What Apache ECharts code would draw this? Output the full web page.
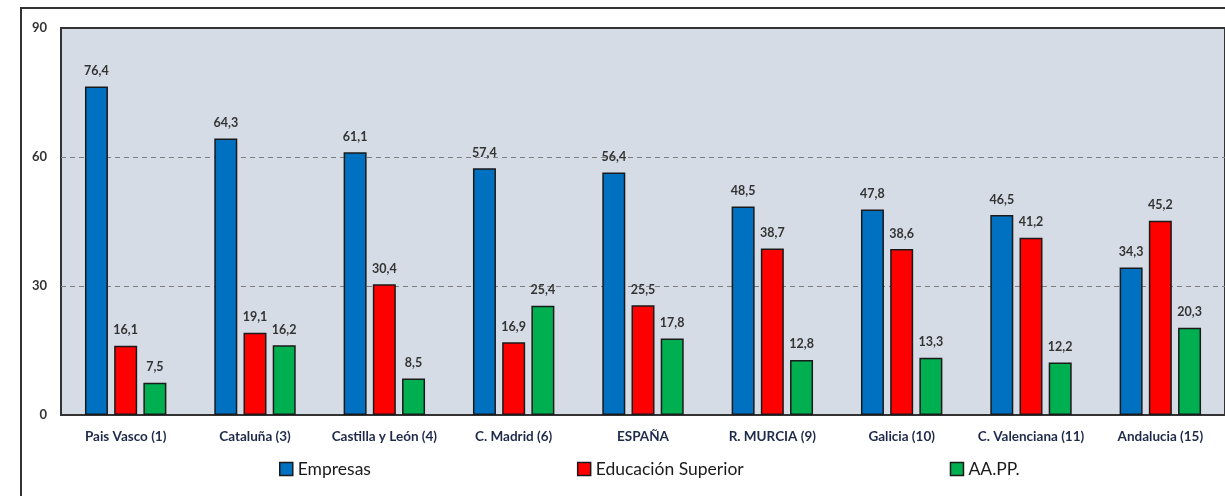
<!DOCTYPE html>
<html>
<head>
<meta charset="utf-8">
<style>
  html, body { margin: 0; padding: 0; background: #ffffff; }
  #chart { width: 1225px; height: 496px; }
</style>
<script src="https://cdn.jsdelivr.net/npm/echarts@6/dist/echarts.min.js"></script>
</head>
<body>
<div id="chart"></div>
<script>
// Regions (national ranking in brackets)
const categories = [
  'Pais Vasco (1)', 'Cataluña (3)', 'Castilla y León (4)', 'C. Madrid (6)', 'ESPAÑA',
  'R. MURCIA (9)', 'Galicia (10)', 'C. Valenciana (11)', 'Andalucia (15)'
];
const seriesNames = ['Empresas', 'Educación Superior', 'AA.PP.'];
const empresas = [76.4, 64.3, 61.1, 57.4, 56.4, 48.5, 47.8, 46.5, 34.3];
const educacionSuperior = [16.1, 19.1, 30.4, 16.9, 25.5, 38.7, 38.6, 41.2, 45.2];
const aapp = [7.5, 16.2, 8.5, 25.4, 17.8, 12.8, 13.3, 12.2, 20.3];
const yTicks = [0, 30, 60, 90];

const colors = ['#0070C0', '#FF0000', '#00B050'];
const FONT = 'Lato, "Noto Sans", sans-serif';

function barSeries(name, data, color) {
  return {
    name: name,
    type: 'bar',
    data: data,
    barWidth: 23,
    barGap: '27%',
    itemStyle: { color: color, borderColor: '#1a1a1a', borderWidth: 1.5 },
    label: {
      show: true,
      position: 'top',
      distance: 9,
      fontFamily: FONT,
      fontSize: 12.5,
      fontWeight: 'bold',
      color: '#333333',
      formatter: p => p.value.toFixed(1).replace('.', ',')
    }
  };
}

const chart = echarts.init(document.getElementById('chart'), null, { renderer: 'canvas' });
chart.setOption({
  animation: false,
  backgroundColor: '#ffffff',
  color: colors,
  grid: {
    left: 61, right: -3, top: 28, bottom: 81,
    show: true,
    backgroundColor: '#D6DCE5',
    borderColor: '#333333',
    borderWidth: 2
  },
  legend: {
    bottom: 13,
    left: 274,
    itemGap: 206,
    itemWidth: 13,
    itemHeight: 13,
    icon: 'rect',
    itemStyle: { borderColor: '#1a1a1a', borderWidth: 1.5 },
    textStyle: { fontFamily: FONT, fontSize: 17.5, color: '#1a1a1a' },
    data: seriesNames
  },
  xAxis: {
    type: 'category',
    data: categories,
    axisLine: { show: true, lineStyle: { color: '#333333', width: 2 } },
    axisTick: { show: false },
    axisLabel: {
      interval: 0,
      margin: 15,
      fontFamily: FONT,
      fontSize: 13.5,
      fontWeight: 'bold',
      color: '#1f2a4a'
    }
  },
  yAxis: {
    type: 'value',
    min: yTicks[0],
    max: yTicks[yTicks.length - 1],
    interval: 30,
    axisLine: { show: false },
    axisTick: { show: false },
    axisLabel: {
      margin: 14,
      fontFamily: FONT,
      fontSize: 13,
      fontWeight: 'bold',
      color: '#333333'
    },
    splitLine: {
      show: true,
      lineStyle: { color: '#7f7f7f', type: [5, 4], width: 1 },
      showMinLine: false,
      showMaxLine: false
    }
  },
  graphic: [
    // outer chart frame (top and left edges)
    { type: 'line', shape: { x1: 20, y1: 8, x2: 1225, y2: 8 },
      style: { stroke: '#333333', lineWidth: 2 } },
    { type: 'line', shape: { x1: 21, y1: 8, x2: 21, y2: 496 },
      style: { stroke: '#333333', lineWidth: 2 } }
  ],
  series: [
    barSeries(seriesNames[0], empresas, colors[0]),
    barSeries(seriesNames[1], educacionSuperior, colors[1]),
    barSeries(seriesNames[2], aapp, colors[2])
  ]
});
</script>
</body>
</html>
